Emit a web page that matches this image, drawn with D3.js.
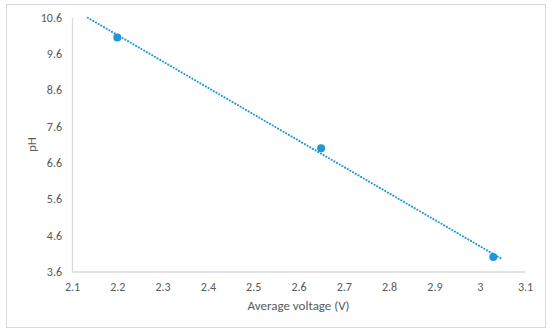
<!DOCTYPE html>
<html><head><meta charset="utf-8">
<script src="https://cdn.jsdelivr.net/npm/d3@7"></script>
<style>html,body{margin:0;padding:0;background:#fff;}</style>
</head><body>
<script>
const voltage = [2.2, 2.65, 3.03];
const pH = [10.05, 7.0, 4.0];
const xTicks = [2.1, 2.2, 2.3, 2.4, 2.5, 2.6, 2.7, 2.8, 2.9, 3, 3.1];
const yTicks = [3.6, 4.6, 5.6, 6.6, 7.6, 8.6, 9.6, 10.6];
const trendRange = [2.135, 3.05];

const W = 550, H = 335;
const color = "#1f96d6";
const font = "Calibri, Carlito, 'Open Sans', sans-serif";
const svg = d3.select("body").append("svg").attr("width", W).attr("height", H);

svg.append("rect").attr("x", 6.5).attr("y", 4.5).attr("width", 539).attr("height", 323)
  .attr("fill", "#fff").attr("stroke", "#d9d9d9").attr("stroke-width", 1);

const x = d3.scaleLinear().domain([2.1, 3.1]).range([72, 525]);
const y = d3.scaleLinear().domain([3.6, 10.6]).range([271.5, 17.5]);

const xAxis = svg.append("g").attr("transform", `translate(0,${y(3.6)})`)
  .call(d3.axisBottom(x).tickValues(xTicks).tickSize(0).tickPadding(11).tickFormat(d3.format("")));
const yAxis = svg.append("g").attr("transform", `translate(${x(2.1)},0)`)
  .call(d3.axisLeft(y).tickValues(yTicks).tickSize(0).tickPadding(10).tickFormat(d3.format(".1f")));
[xAxis, yAxis].forEach(a => {
  a.select(".domain").attr("stroke", "#d9d9d9").attr("stroke-width", 1.3);
  a.selectAll("text").attr("fill", "#595959").style("font-family", font).style("font-size", "12px");
});

// least-squares trend line from the data
const n = voltage.length;
const mx = d3.mean(voltage), my = d3.mean(pH);
let sxy = 0, sxx = 0;
for (let i = 0; i < n; i++) { sxy += (voltage[i]-mx)*(pH[i]-my); sxx += (voltage[i]-mx)**2; }
const slope = sxy / sxx, icpt = my - slope * mx;
const trend = trendRange.map(v => [v, icpt + slope * v]);
svg.append("path").datum(trend)
  .attr("d", d3.line().x(d => x(d[0])).y(d => y(d[1])))
  .attr("stroke", color).attr("stroke-width", 2).attr("fill", "none")
  .attr("stroke-dasharray", "0.1 3").attr("stroke-linecap", "round");

svg.selectAll("circle.pt").data(voltage).enter().append("circle")
  .attr("class", "pt").attr("cx", d => x(d)).attr("cy", (d, i) => y(pH[i]))
  .attr("r", 4).attr("fill", color);

svg.append("text").attr("x", x(2.6)).attr("y", 310).attr("text-anchor", "middle")
  .attr("fill", "#595959").style("font-family", font).style("font-size", "13px")
  .text("Average voltage (V)");
svg.append("text").attr("transform", `translate(36,${(y(3.6)+y(10.6))/2}) rotate(-90)`)
  .attr("text-anchor", "middle").attr("fill", "#595959").style("font-family", font).style("font-size", "13px")
  .text("pH");
</script>
</body></html>
